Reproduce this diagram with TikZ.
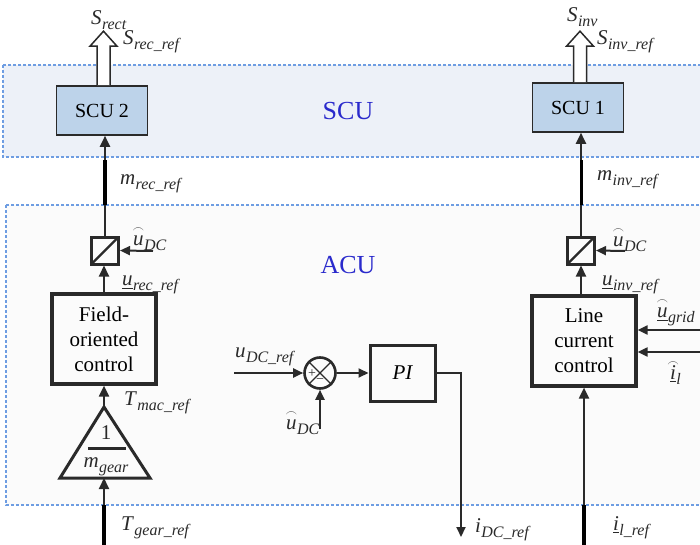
\documentclass[tikz,border=0pt]{standalone}
\usepackage{amsmath}
\usepackage{graphicx}
\usepackage{fontspec}
\setmainfont{Liberation Serif}
\usetikzlibrary{arrows.meta,calc}

\definecolor{regline}{HTML}{6E9DE2}
\definecolor{scufill}{HTML}{EDF1F8}
\definecolor{acufill}{HTML}{FBFBFB}
\definecolor{boxfill}{HTML}{BDD3EA}
\definecolor{ink}{HTML}{2A2A2A}
\definecolor{regtext}{HTML}{2A2ACC}

% italic subscript, lowered
\newcommand\sbs[1]{\kern0.3pt\raisebox{-5pt}{\fontsize{16}{16}\selectfont\itshape #1}}
% italic symbol with italic subscript
\newcommand\sv[2]{\textit{#1}\sbs{#2}}
% round arc accent over a symbol
\newcommand\arcv[1]{\leavevmode\setbox0\hbox{#1}%
  \ooalign{\copy0\cr\hidewidth\raisebox{12.5pt}{\resizebox{11.5pt}{4.5pt}{$\frown$}}\hidewidth\cr}}

\tikzset{
  region/.style={draw=regline, line width=1.4pt, dash pattern=on 3pt off 2pt},
  scubox/.style={draw=ink, fill=boxfill, line width=1.6pt, minimum width=91, minimum height=49, inner sep=0pt},
  cbox/.style={draw=ink, line width=3.2pt, minimum width=104, minimum height=90, inner sep=0pt, align=center, font=\fontsize{21}{25}\selectfont},
  convbox/.style={draw=ink, line width=3pt, minimum size=27, inner sep=0pt,
    path picture={\draw[ink, line width=2.4pt] (path picture bounding box.south west) -- (path picture bounding box.north east);}},
  conn/.style={draw=ink, line width=2pt, -{Triangle[length=11pt, width=10pt]}},
  thinconn/.style={draw=ink, line width=2pt, -{Triangle[length=10pt, width=9pt]}},
  outer/.style={draw=black, line width=3.6pt},
  hollow/.style={draw=ink, fill=white, line width=1.5pt, line join=miter},
  lab/.style={anchor=base west, inner sep=0pt, text=ink, font=\fontsize{21}{25}\selectfont},
}

\begin{document}
\begin{tikzpicture}[x=1pt, y=-1pt]
  \clip (0,0) rectangle (700,545);
  \fill[white] (0,0) rectangle (700,545);

  % control regions
  \draw[region, fill=scufill] (3,65) rectangle (720,157);
  \draw[region, fill=acufill] (6,205) rectangle (720,505);
  \node[text=regtext, font=\fontsize{26}{30}\selectfont] (scutxt) at (348,111) {SCU};
  \node[text=regtext, font=\fontsize{26}{30}\selectfont] (acutxt) at (348,265) {ACU};

  % switching control units
  \node[scubox, font=\fontsize{20}{24}\selectfont] (scu2) at (102,110.5) {SCU 2};
  \node[scubox, font=\fontsize{20}{24}\selectfont] (scu1) at (578,107.5) {SCU 1};

  % hollow switching-signal arrows
  \coordinate (h2) at ($(scu2.north)+(1.5,0)$);
  \draw[hollow] ($(h2)+(-6.5,0)$) -- ($(h2)+(-6.5,-39)$) -- ($(h2)+(-13.5,-39)$)
     -- ($(h2)+(0,-54)$) -- ($(h2)+(13.5,-39)$) -- ($(h2)+(6.5,-39)$) -- ($(h2)+(6.5,0)$);
  \coordinate (h1) at ($(scu1.north)+(2,0)$);
  \draw[hollow] ($(h1)+(-6.5,0)$) -- ($(h1)+(-6.5,-36)$) -- ($(h1)+(-13.5,-36)$)
     -- ($(h1)+(0,-51)$) -- ($(h1)+(13.5,-36)$) -- ($(h1)+(6.5,-36)$) -- ($(h1)+(6.5,0)$);

  % modulators
  \node[convbox] (cv2) at (105,250.5) {};
  \node[convbox] (cv1) at (581,250.5) {};

  % control blocks
  \node[cbox] (foc) at (104,339) {Field-\\oriented\\control};
  \node[cbox] (lcc) at (584,341) {Line\\current\\control};
  \node[draw=ink, line width=3pt, minimum width=65, minimum height=56, inner sep=0pt,
        font=\fontsize{21}{25}\selectfont\itshape] (pi) at (402.5,373) {PI};

  % gear ratio gain
  \coordinate (triapex) at (104,407);
  \coordinate (tribase) at (104,478);
  \draw[ink, line width=3pt, line join=miter] (60,478) -- (triapex) -- (150,478) -- cycle;
  \node[font=\fontsize{21}{25}\selectfont, text=ink] (one) at (106,433) {1};
  \draw[ink, line width=3pt] (88,448) -- (126,448);
  \node[font=\fontsize{21}{25}\selectfont, text=ink, anchor=base] (mgear) at (106,467) {\sv{m}{gear}};

  % summing junction
  \node[circle, draw=ink, line width=2.6pt, minimum size=31, inner sep=0pt] (sum) at (320,373) {};
  \draw[ink, line width=1.4pt] (sum.north west) -- (sum.south east);
  \draw[ink, line width=1.4pt] (sum.north east) -- (sum.south west);
  \node[font=\fontsize{14}{14}\selectfont, text=ink] (plus) at ($(sum.center)+(-8,1)$) {+};
  \node[font=\fontsize{14}{14}\selectfont, text=ink] (minus) at ($(sum.center)+(0,8)$) {\textminus};

  % free ends of the connectors
  \coordinate (acutop) at (0,205);
  \coordinate (acubot) at (0,505);
  \coordinate (udcin2) at (153,251);
  \coordinate (udcin1) at (625,251);
  \coordinate (tgear) at (104,545);
  \coordinate (ilref) at (584,545);
  \coordinate (ugridin) at (700,330);
  \coordinate (ilin) at (700,352);
  \coordinate (udcref) at (234,373);
  \coordinate (udcfb) at (320,429);
  \coordinate (idc) at (461,537);

  % left branch
  \draw[conn] (cv2.north) -- (cv2.north |- scu2.south);
  \draw[outer] (cv2.north |- acutop) -- (cv2.north |- 0,160);
  \draw[thinconn] (udcin2) -- (cv2.east);
  \draw[conn] (foc.north) -- (foc.north |- cv2.south);
  \draw[conn] (triapex) -- (foc.south);
  \draw[conn] (tgear) -- (tribase);
  \draw[outer] (tgear) -- (tgear |- acubot);

  % right branch
  \draw[conn] (cv1.north) -- (cv1.north |- scu1.south);
  \draw[outer, line width=3pt] (cv1.north |- acutop) -- (cv1.north |- 0,160);
  \draw[thinconn] (udcin1) -- (cv1.east);
  \draw[conn] (cv1.south |- lcc.north) -- (cv1.south);
  \draw[thinconn] (ugridin) -- (lcc.east |- ugridin);
  \draw[thinconn] (ilin) -- (lcc.east |- ilin);
  \draw[conn] (ilref) -- (lcc.south);
  \draw[outer] (ilref) -- (ilref |- acubot);

  % DC voltage loop
  \draw[thinconn] (udcref) -- (sum.west);
  \draw[thinconn] (sum.east) -- (pi.west);
  \draw[thinconn] (udcfb) -- (sum.south);
  \draw[thinconn] (pi.east) -| (idc);

  % signal labels
  \node[lab] (lsrect) at (91,25) {\sv{S}{rect}};
  \node[lab] (lsrecref) at (123,45) {\sv{S}{rec\_ref}};
  \node[lab] (lmrec) at (120,185) {\sv{m}{rec\_ref}};
  \node[lab] (lsinv) at (567,22) {\sv{S}{inv}};
  \node[lab] (lsinvref) at (597,45) {\sv{S}{inv\_ref}};
  \node[lab] (lminv) at (597,181) {\sv{m}{inv\_ref}};
  \node[lab] (ludc2) at (133,245) {\arcv{\textit{u}}\sbs{DC}};
  \node[lab] (lurec) at (122,285) {\underline{\textit{u}}\sbs{rec\_ref}};
  \node[lab] (ltmac) at (124,405) {\sv{T}{mac\_ref}};
  \node[lab] (ltgear) at (121,530) {\sv{T}{gear\_ref}};
  \node[lab] (ludc1) at (613,246) {\arcv{\textit{u}}\sbs{DC}};
  \node[lab] (luinv) at (602,285) {\underline{\textit{u}}\sbs{inv\_ref}};
  \node[lab] (lugrid) at (657,317) {\arcv{\underline{\textit{u}}}\sbs{grid}};
  \node[lab] (lil) at (670,379) {\arcv{\underline{\textit{i}}}\sbs{l}};
  \node[lab] (lilref) at (613,530) {\underline{\textit{i}}\sbs{l\_ref}};
  \node[lab] (lidc) at (475,532) {\sv{i}{DC\_ref}};
  \node[lab] (ludcref) at (235,357) {\sv{u}{DC\_ref}};
  \node[lab] (ludcfb) at (286,429) {\arcv{\textit{u}}\sbs{DC}};
\end{tikzpicture}
\end{document}
